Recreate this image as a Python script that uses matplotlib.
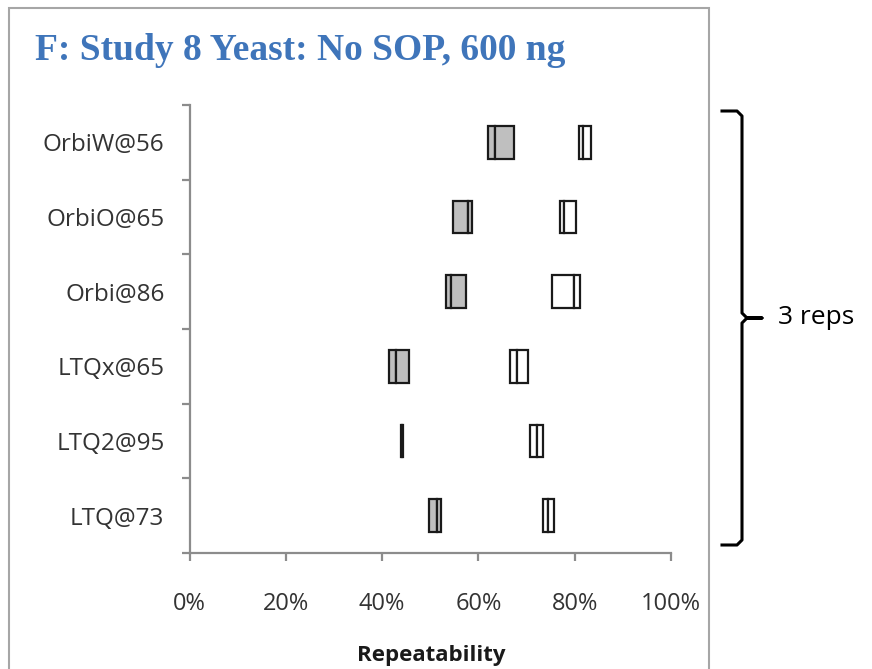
import matplotlib
matplotlib.use("Agg")
import matplotlib.pyplot as plt
from matplotlib.lines import Line2D
from matplotlib.patches import Rectangle
from matplotlib.ticker import FixedLocator, FuncFormatter

# Instruments, listed top to bottom
instruments = ["OrbiW@56", "OrbiO@65", "Orbi@86", "LTQx@65", "LTQ2@95", "LTQ@73"]

# Repeatability (%) over 3 replicates: low / middle / high
gray_low = [62.0, 54.7, 53.3, 41.5, 44.0, 49.7]
gray_mid = [63.4, 57.9, 54.3, 42.8, 44.2, 51.5]
gray_high = [67.4, 58.7, 57.4, 45.5, 44.4, 52.3]

white_low = [80.8, 77.0, 75.2, 66.5, 70.7, 73.5]
white_mid = [81.8, 77.8, 79.9, 68.1, 72.1, 74.4]
white_high = [83.4, 80.2, 81.1, 70.2, 73.4, 75.6]

x_ticks = [0, 20, 40, 60, 80, 100]

W, H = 872, 669
fig = plt.figure(figsize=(W / 100, H / 100), dpi=100)
fig.patch.set_facecolor("white")


def fx(px):
    return px / W


def fy(py):
    return 1 - py / H


ax = fig.add_axes([fx(189.5), fy(553), fx(671) - fx(189.5), fy(105) - fy(553)])

pos = list(range(len(instruments)))
box_h = 0.44
edge = "#1a1a1a"


def draw_boxes(low, mid, high, fill):
    ax.barh(pos, [m - l for l, m in zip(low, mid)], left=low, height=box_h,
            color=fill, edgecolor=edge, linewidth=1.6, zorder=3)
    ax.barh(pos, [h - m for m, h in zip(mid, high)], left=mid, height=box_h,
            color=fill, edgecolor=edge, linewidth=1.6, zorder=3)


draw_boxes(gray_low, gray_mid, gray_high, "#bfbfbf")
draw_boxes(white_low, white_mid, white_high, "white")

ax.set_xlim(0, 100)
ax.set_ylim(len(instruments) - 0.5, -0.5)

ax.set_xticks(x_ticks)
ax.xaxis.set_major_formatter(FuncFormatter(lambda v, p: f"{v:.0f}%"))

# category boundaries carry the tick marks, centres carry the labels
ax.yaxis.set_major_locator(FixedLocator([i - 0.5 for i in range(len(instruments) + 1)]))
ax.yaxis.set_minor_locator(FixedLocator(pos))
ax.set_yticklabels([], minor=False)
ax.set_yticklabels(instruments, minor=True)

axis_col = "#8c8c8c"
for s in ["top", "right"]:
    ax.spines[s].set_visible(False)
for s in ["left", "bottom"]:
    ax.spines[s].set_color(axis_col)
    ax.spines[s].set_linewidth(1.6)

label_font = "Open Sans"
ax.tick_params(axis="y", which="major", length=6, width=1.6, color=axis_col, direction="out")
ax.tick_params(axis="y", which="minor", length=0, pad=18, labelsize=17.5,
               labelcolor="#333333")
ax.tick_params(axis="x", which="major", length=6, width=1.6, color=axis_col,
               direction="out", pad=22, labelsize=17, labelcolor="#333333")
for lab in ax.get_yticklabels(minor=True) + ax.get_xticklabels():
    lab.set_fontfamily(label_font)

# chart title and axis title
fig.text(fx(35), fy(51), "F: Study 8 Yeast: No SOP, 600 ng", ha="left", va="center",
         fontsize=27, fontweight="bold", family="Liberation Serif", color="#3f75ba")
fig.text(fx(431), fy(656), "Repeatability", ha="center", va="center",
         fontsize=16, fontweight="bold", family=label_font, color="#1a1a1a")

# chart-area frame
fig.patches.append(Rectangle((fx(9), fy(700)), fx(709) - fx(9), fy(8) - fy(700),
                             transform=fig.transFigure, fill=False,
                             edgecolor="#a6a6a6", linewidth=1.5))

# bracket spanning all instruments
bx = [722, 737, 742, 742, 747, 762, 747, 742, 742, 737, 722]
by = [111, 111, 116, 313, 318, 318, 318, 323, 540, 545, 545]
fig.add_artist(Line2D([fx(v) for v in bx], [fy(v) for v in by], transform=fig.transFigure,
                      color="black", linewidth=2.2, solid_joinstyle="round"))
fig.text(fx(778), fy(318), "3 reps", ha="left", va="center", fontsize=19,
         family=label_font, color="black")

fig.savefig("out.png", dpi=100)
